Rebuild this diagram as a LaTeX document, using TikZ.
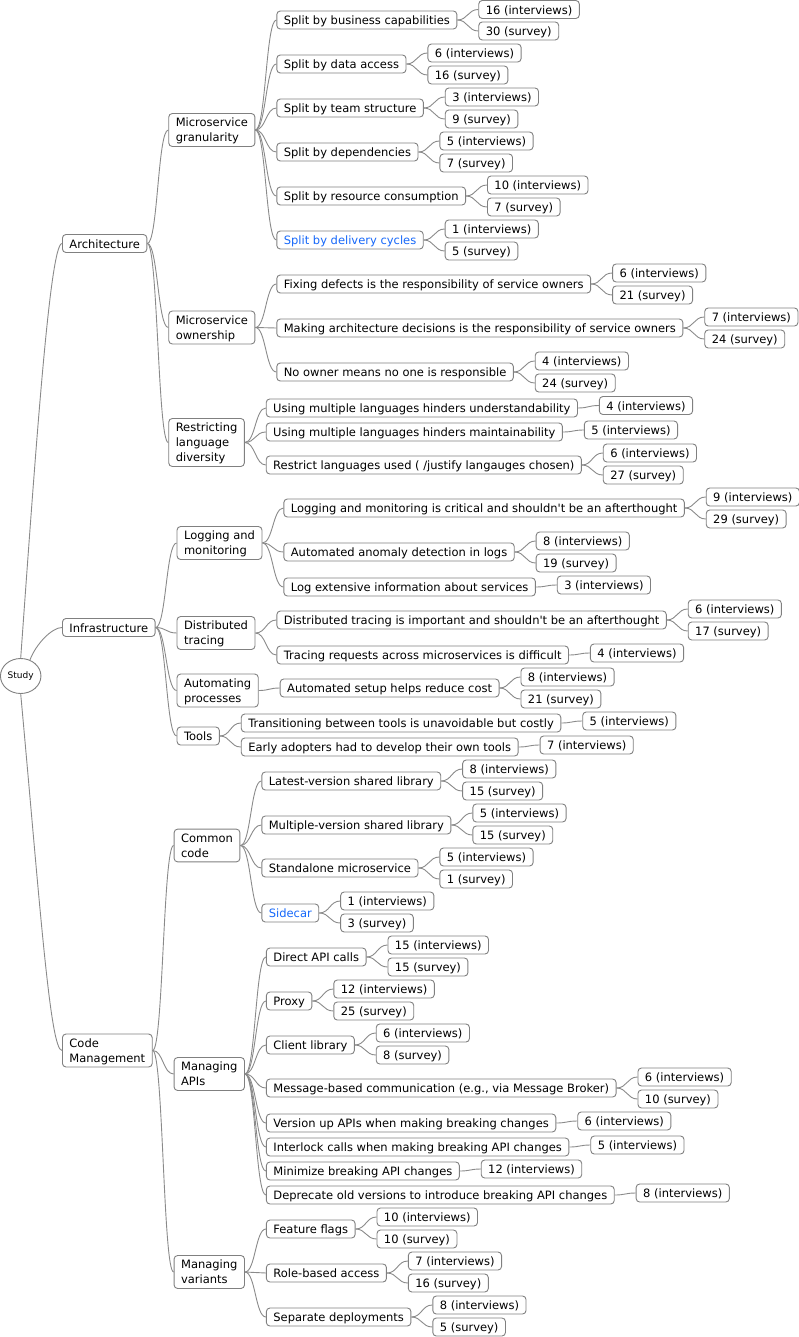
\documentclass[tikz,border=0pt]{standalone}
\usepackage{fontspec}
\setmainfont{DejaVu Sans}
\usetikzlibrary{calc,shapes.geometric}
\definecolor{framegray}{RGB}{128,128,128}
\definecolor{wiregray}{RGB}{138,138,138}
\definecolor{linkblue}{RGB}{22,104,250}
\newcommand\mmfont{\fontsize{11.5}{15}\selectfont}
\tikzset{
  basebox/.style={draw=framegray, line width=0.9pt, rounded corners=3.5pt, fill=white,
    anchor=west, align=left, inner xsep=7pt, font=\mmfont, text=black},
  box/.style={basebox, text height=10.2pt, text depth=1pt, inner ysep=3.4pt},
  tallbox/.style={basebox, text depth=0pt, inner ysep=4.6pt},
  bluetext/.style={text=linkblue},
  edge/.style={draw=wiregray, line width=0.9pt},
}
% child node: [style]{name}{parent}{y}{text}, placed 21pt right of its parent
\newcommand\kid[5][box]{%
  \node[#1] (#2) at ($(#3.east |- 0,#4)+(21,0)$) {#5};
  \draw[edge] (#3.east) .. controls +(10.5,0) and +(-10.5,0) .. (#2.west);}
\newcommand\apos{\textquotesingle}
\begin{document}
\begin{tikzpicture}[x=1pt,y=-1pt]
\useasboundingbox (0,0) rectangle (799,1337);

\node[ellipse, draw=framegray, line width=0.9pt, fill=white, minimum width=40.5pt,
  minimum height=35pt, inner sep=0pt, font=\fontsize{9}{11}\selectfont] (study) at (20.7,676) {Study};

% ---- Architecture
\node[box] (arch) at (62,243.5) {Architecture};
\draw[edge] (study.north) .. controls +(15,-209) and +(-12,0) .. (arch.west);
\kid[tallbox]{gran}{arch}{130}{Microservice\\granularity}
\kid{g1}{gran}{20}{Split by business capabilities}
\kid{g1i}{g1}{9.5}{16 (interviews)}
\kid{g1s}{g1}{31}{30 (survey)}
\kid{g2}{gran}{64}{Split by data access}
\kid{g2i}{g2}{53}{6 (interviews)}
\kid{g2s}{g2}{75}{16 (survey)}
\kid{g3}{gran}{108}{Split by team structure}
\kid{g3i}{g3}{97}{3 (interviews)}
\kid{g3s}{g3}{119}{9 (survey)}
\kid{g4}{gran}{152}{Split by dependencies}
\kid{g4i}{g4}{141}{5 (interviews)}
\kid{g4s}{g4}{163}{7 (survey)}
\kid{g5}{gran}{196}{Split by resource consumption}
\kid{g5i}{g5}{185}{10 (interviews)}
\kid{g5s}{g5}{207}{7 (survey)}
\kid[box,bluetext]{g6}{gran}{240}{Split by delivery cycles}
\kid{g6i}{g6}{229}{1 (interviews)}
\kid{g6s}{g6}{251}{5 (survey)}
\kid[tallbox]{own}{arch}{327.5}{Microservice\\ownership}
\kid{o1}{own}{284}{Fixing defects is the responsibility of service owners}
\kid{o1i}{o1}{273}{6 (interviews)}
\kid{o1s}{o1}{295}{21 (survey)}
\kid{o2}{own}{328}{Making architecture decisions is the responsibility of service owners}
\kid{o2i}{o2}{317}{7 (interviews)}
\kid{o2s}{o2}{339}{24 (survey)}
\kid{o3}{own}{372}{No owner means no one is responsible}
\kid{o3i}{o3}{361}{4 (interviews)}
\kid{o3s}{o3}{383}{24 (survey)}
\kid[tallbox]{lang}{arch}{442.5}{Restricting\\language\\diversity}
\kid{l1}{lang}{408}{Using multiple languages hinders understandability}
\kid{l1i}{l1}{405.5}{4 (interviews)}
\kid{l2}{lang}{432}{Using multiple languages hinders maintainability}
\kid{l2i}{l2}{430}{5 (interviews)}
\kid{l3}{lang}{465}{Restrict languages used ( /justify langauges chosen)}
\kid{l3i}{l3}{453}{6 (interviews)}
\kid{l3s}{l3}{475}{27 (survey)}

% ---- Infrastructure
\node[box] (infra) at (62,627.5) {Infrastructure};
\draw[edge] (study.60) .. controls +(6,-16) and +(-10,0) .. (infra.west);
\kid[tallbox]{logm}{infra}{543}{Logging and\\monitoring}
\kid{m1}{logm}{508}{Logging and monitoring is critical and shouldn\apos t be an afterthought}
\kid{m1i}{m1}{497}{9 (interviews)}
\kid{m1s}{m1}{519}{29 (survey)}
\kid{m2}{logm}{552}{Automated anomaly detection in logs}
\kid{m2i}{m2}{541}{8 (interviews)}
\kid{m2s}{m2}{563}{19 (survey)}
\kid{m3}{logm}{587}{Log extensive information about services}
\kid{m3i}{m3}{585}{3 (interviews)}
\kid[tallbox]{dtr}{infra}{633}{Distributed\\tracing}
\kid{t1}{dtr}{620}{Distributed tracing is important and shouldn\apos t be an afterthought}
\kid{t1i}{t1}{609}{6 (interviews)}
\kid{t1s}{t1}{631}{17 (survey)}
\kid{t2}{dtr}{655}{Tracing requests across microservices is difficult}
\kid{t2i}{t2}{653}{4 (interviews)}
\kid[tallbox]{auto}{infra}{690.5}{Automating\\processes}
\kid{p1}{auto}{688}{Automated setup helps reduce cost}
\kid{p1i}{p1}{677}{8 (interviews)}
\kid{p1s}{p1}{699}{21 (survey)}
\kid{tools}{infra}{736}{Tools}
\kid{u1}{tools}{723}{Transitioning between tools is unavoidable but costly}
\kid{u1i}{u1}{721}{5 (interviews)}
\kid{u2}{tools}{747}{Early adopters had to develop their own tools}
\kid{u2i}{u2}{745}{7 (interviews)}

% ---- Code Management
\node[tallbox] (code) at (62,1050.5) {Code\\Management};
\draw[edge] (study.south) .. controls +(19,207) and +(-12,0) .. (code.west);
\kid[tallbox]{comm}{code}{845.5}{Common\\code}
\kid{c1}{comm}{781}{Latest-version shared library}
\kid{c1i}{c1}{769}{8 (interviews)}
\kid{c1s}{c1}{791}{15 (survey)}
\kid{c2}{comm}{825}{Multiple-version shared library}
\kid{c2i}{c2}{813}{5 (interviews)}
\kid{c2s}{c2}{835}{15 (survey)}
\kid{c3}{comm}{868}{Standalone microservice}
\kid{c3i}{c3}{857}{5 (interviews)}
\kid{c3s}{c3}{879}{1 (survey)}
\kid[box,bluetext]{c4}{comm}{913}{Sidecar}
\kid{c4i}{c4}{901}{1 (interviews)}
\kid{c4s}{c4}{923}{3 (survey)}
\kid[tallbox]{apis}{code}{1074}{Managing\\APIs}
\kid{a1}{apis}{957}{Direct API calls}
\kid{a1i}{a1}{945}{15 (interviews)}
\kid{a1s}{a1}{967}{15 (survey)}
\kid{a2}{apis}{1001}{Proxy}
\kid{a2i}{a2}{989}{12 (interviews)}
\kid{a2s}{a2}{1011}{25 (survey)}
\kid{a3}{apis}{1045}{Client library}
\kid{a3i}{a3}{1033}{6 (interviews)}
\kid{a3s}{a3}{1055}{8 (survey)}
\kid{a4}{apis}{1088}{Message-based communication (e.g., via Message Broker)}
\kid{a4i}{a4}{1077}{6 (interviews)}
\kid{a4s}{a4}{1099}{10 (survey)}
\kid{a5}{apis}{1123}{Version up APIs when making breaking changes}
\kid{a5i}{a5}{1121}{6 (interviews)}
\kid{a6}{apis}{1147}{Interlock calls when making breaking API changes}
\kid{a6i}{a6}{1145}{5 (interviews)}
\kid{a7}{apis}{1171}{Minimize breaking API changes}
\kid{a7i}{a7}{1169}{12 (interviews)}
\kid{a8}{apis}{1195}{Deprecate old versions to introduce breaking API changes}
\kid{a8i}{a8}{1193}{8 (interviews)}
\kid[tallbox]{vars}{code}{1272}{Managing\\variants}
\kid{v1}{vars}{1229}{Feature flags}
\kid{v1i}{v1}{1217}{10 (interviews)}
\kid{v1s}{v1}{1239}{10 (survey)}
\kid{v2}{vars}{1273}{Role-based access}
\kid{v2i}{v2}{1261}{7 (interviews)}
\kid{v2s}{v2}{1283}{16 (survey)}
\kid{v3}{vars}{1317}{Separate deployments}
\kid{v3i}{v3}{1305}{8 (interviews)}
\kid{v3s}{v3}{1327}{5 (survey)}
\end{tikzpicture}
\end{document}
